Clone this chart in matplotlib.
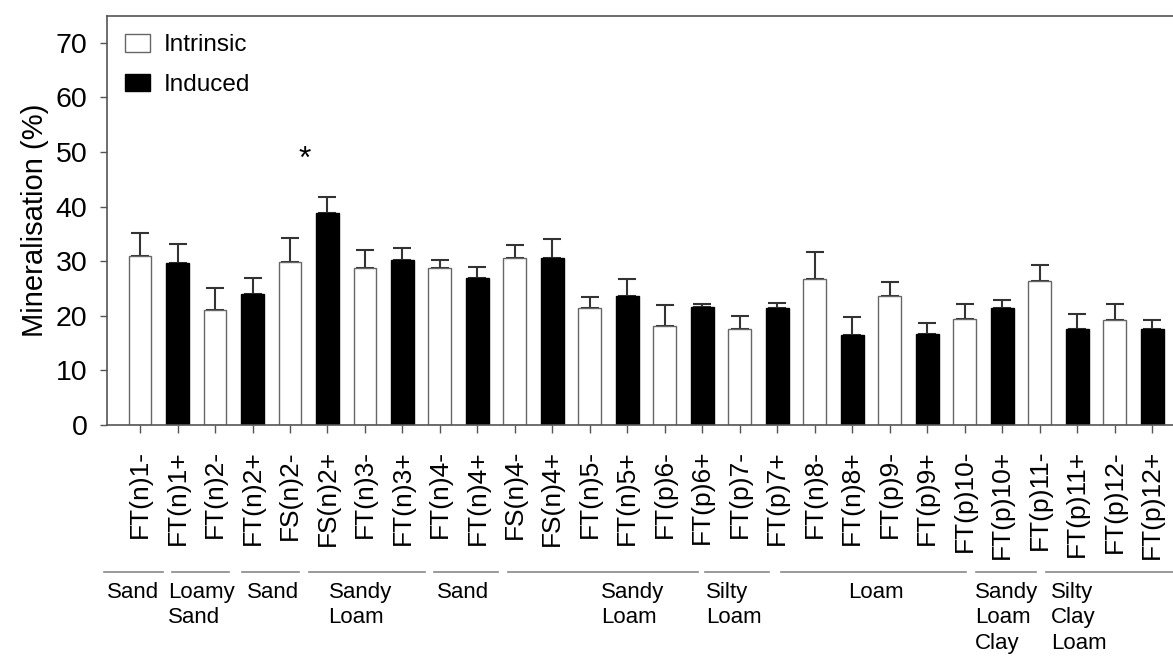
import matplotlib
matplotlib.use("Agg")
import matplotlib.pyplot as plt
from matplotlib.patches import Patch
import numpy as np

plt.rcParams['font.family'] = ['Liberation Sans', 'DejaVu Sans']

# ---- data ----
samples = ["FT(n)1-", "FT(n)1+", "FT(n)2-", "FT(n)2+", "FS(n)2-", "FS(n)2+",
           "FT(n)3-", "FT(n)3+", "FT(n)4-", "FT(n)4+", "FS(n)4-", "FS(n)4+",
           "FT(n)5-", "FT(n)5+", "FT(p)6-", "FT(p)6+", "FT(p)7-", "FT(p)7+",
           "FT(n)8-", "FT(n)8+", "FT(p)9-", "FT(p)9+", "FT(p)10-", "FT(p)10+",
           "FT(p)11-", "FT(p)11+", "FT(p)12-", "FT(p)12+"]
mineralisation = [31.0, 29.6, 21.0, 23.9, 29.9, 38.9,
                  28.7, 30.2, 28.8, 27.0, 30.5, 30.5,
                  21.4, 23.7, 18.1, 21.7, 17.6, 21.4,
                  26.8, 16.5, 23.6, 16.7, 19.5, 21.5,
                  26.4, 17.6, 19.2, 17.6]
error_upper = [4.1, 3.5, 4.1, 3.0, 4.4, 2.8,
               3.4, 2.2, 1.5, 2.0, 2.4, 3.6,
               2.1, 3.1, 3.8, 0.4, 2.4, 1.0,
               4.9, 3.2, 2.6, 1.9, 2.7, 1.4,
               2.9, 2.8, 3.0, 1.7]
series_names = ["Intrinsic", "Induced"]
soil_groups = ["Sand", "Loamy\nSand", "Sand", "Sandy\nLoam", "Sand", "Sandy\nLoam",
               "Silty\nLoam", "Loam", "Sandy\nLoam\nClay", "Silty\nClay\nLoam"]
significant_sample = "FS(n)2-"

# ---- layout (positions for the group annotation, in x data units) ----
group_line_spans = [(-0.96, 0.61), (0.86, 2.38), (2.73, 4.25), (4.52, 7.59), (7.83, 9.55),
                    (9.81, 14.89), (15.08, 16.79), (17.09, 22.03), (22.30, 23.90), (24.17, 28.0)]
group_text_x = [-0.88, 0.75, 2.86, 5.03, 7.91, 12.3, 15.1, 18.9, 22.27, 24.3]

W, H = 1173, 657
fig = plt.figure(figsize=(W / 100, H / 100), dpi=100)
ax = fig.add_axes([107 / W, 1 - 425 / H, 1 - 107 / W + 0.002, (425 - 16) / H])

x = np.arange(len(samples))
is_induced = [s.endswith("+") for s in samples]
face = ["black" if ind else "white" for ind in is_induced]
edge = ["black" if ind else "#666666" for ind in is_induced]

ax.bar(x, mineralisation, width=0.61, color=face, edgecolor=edge, linewidth=1.0, zorder=2)
ax.errorbar(x, mineralisation, yerr=[np.zeros(len(x)), error_upper], fmt='none',
            ecolor="#333333", elinewidth=1.5, capsize=6.5, capthick=1.5, zorder=1)

# significance star
si = samples.index(significant_sample)
ax.text(si + 0.4, 48.6, "*", ha='center', va='center', fontsize=23)

ax.set_xlim(-0.882, (W - 140) / 37.4)
ax.set_ylim(0, 74.9)
ax.set_yticks(np.arange(0, 71, 10))
ax.set_xticks(x)
ax.set_xticklabels(samples, rotation=90, fontsize=19)
ax.tick_params(axis='y', labelsize=20.5, direction='out', length=5, width=1, color="#555555", pad=9)
ax.tick_params(axis='x', direction='out', length=6, width=1, color="#555555", pad=12)
ax.set_ylabel("Mineralisation (%)", fontsize=21, labelpad=5)
for side in ['left', 'bottom', 'top']:
    ax.spines[side].set_color("#555555")
    ax.spines[side].set_linewidth(1.2)
ax.spines['right'].set_visible(False)

# legend
handles = [Patch(facecolor="white", edgecolor="#666666", label=series_names[0]),
           Patch(facecolor="black", edgecolor="black", label=series_names[1])]
ax.legend(handles=handles, loc='upper left', bbox_to_anchor=(0.0, 1.0), frameon=False,
          fontsize=17.5, handlelength=1.0, handleheight=0.72, labelspacing=0.72,
          handletextpad=0.6, borderaxespad=0.45, borderpad=0.3)

# soil texture groups below the tick labels
trans = matplotlib.transforms.blended_transform_factory(ax.transData, fig.transFigure)
for (x0, x1), tx, name in zip(group_line_spans, group_text_x, soil_groups):
    ax.plot([x0, x1], [1 - 572 / H] * 2, transform=trans, color="#888888", lw=1.2,
            clip_on=False)
    ax.text(tx, 1 - 582 / H, name, transform=trans, ha='left', va='top', fontsize=16,
            linespacing=1.28)

fig.savefig("out.png", dpi=100)
